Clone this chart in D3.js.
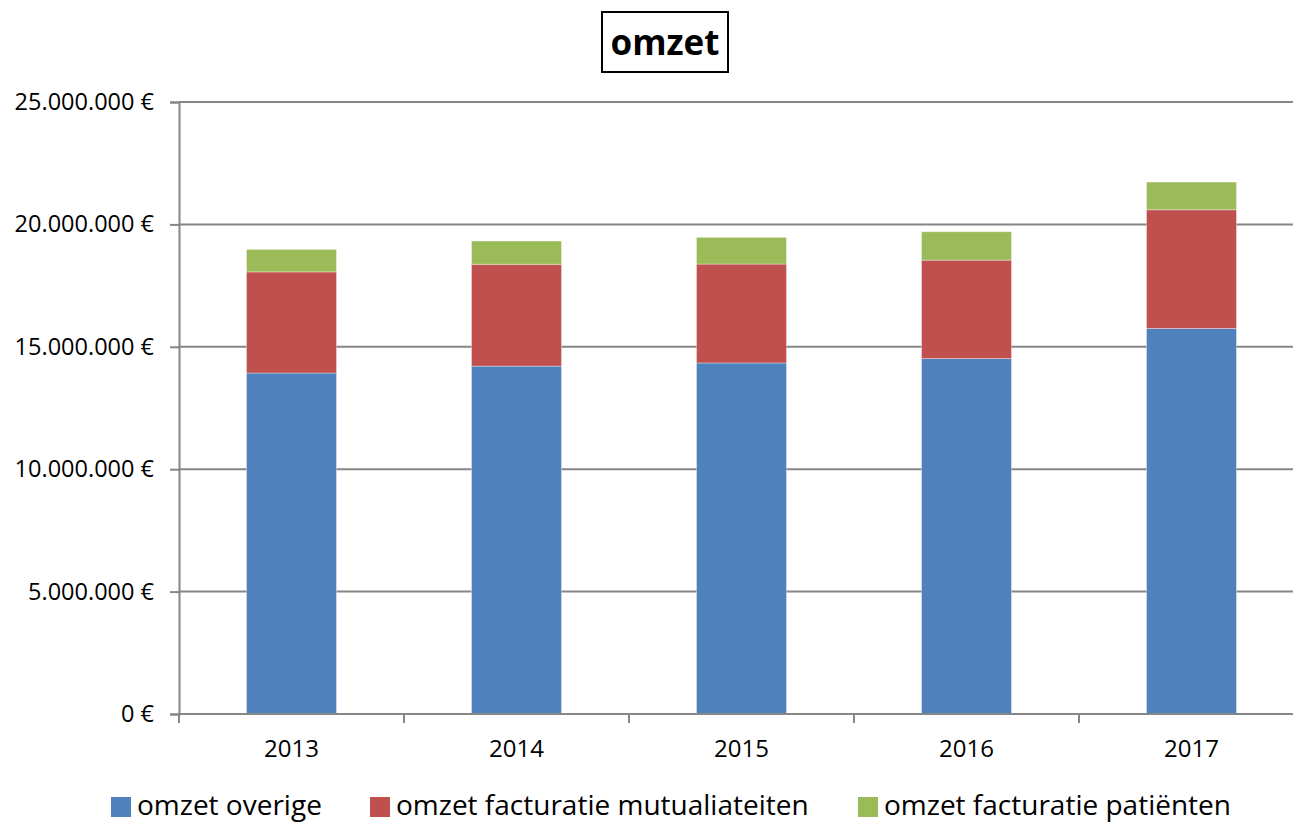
<!DOCTYPE html>
<html>
<head>
<meta charset="utf-8">
<script src="https://cdn.jsdelivr.net/npm/d3@7"></script>
<style>
  html, body { margin: 0; padding: 0; background: #fff; overflow: hidden; }
  text { font-family: "Open Sans", "Noto Sans", sans-serif; fill: #000; }
</style>
</head>
<body>
<div id="chart"></div>
<script>
const years = ["2013", "2014", "2015", "2016", "2017"];
const seriesNames = ["omzet overige", "omzet facturatie mutualiateiten", "omzet facturatie patiënten"];
const overige = [13930000, 14210000, 14340000, 14520000, 15750000];
const mutualiteiten = [4130000, 4160000, 4040000, 4020000, 4850000];
const patienten = [920000, 950000, 1090000, 1160000, 1130000];
const yTicks = [0, 5000000, 10000000, 15000000, 20000000, 25000000];
const colors = ["#4F81BD", "#C0504D", "#9BBB59"];

const width = 1293, height = 823;
const margin = { top: 102, left: 179, bottom: 109 };
const plotRight = 1304;

const svg = d3.select("#chart").append("svg")
  .attr("width", width).attr("height", height);

const rows = years.map((y, i) => ({
  year: y, a: overige[i], b: mutualiteiten[i], c: patienten[i]
}));
const stacked = d3.stack().keys(["a", "b", "c"])(rows);

const x = d3.scaleBand().domain(years)
  .range([margin.left, plotRight]).paddingInner(0.6).paddingOuter(0.3);
const y = d3.scaleLinear().domain([0, 25000000])
  .range([height - margin.bottom, margin.top]);

const fmt = v => d3.format(",")(v).replace(/,/g, ".") + " €";

// gridlines
svg.append("g").selectAll("line").data(yTicks.filter(t => t > 0)).join("line")
  .attr("x1", margin.left).attr("x2", plotRight)
  .attr("y1", d => y(d)).attr("y2", d => y(d))
  .attr("stroke", "#868686").attr("stroke-width", 2);

// bars
svg.append("g").selectAll("g").data(stacked).join("g")
  .attr("fill", (d, i) => colors[i])
  .selectAll("rect").data(d => d).join("rect")
  .attr("x", d => x(d.data.year))
  .attr("width", x.bandwidth())
  .attr("y", d => y(d[1]))
  .attr("height", d => y(d[0]) - y(d[1]))
  .attr("stroke", "rgba(255,255,255,0.35)").attr("stroke-width", 1);

// y axis
const yAxis = svg.append("g")
  .attr("transform", `translate(${margin.left},0)`)
  .call(d3.axisLeft(y).tickValues(yTicks).tickFormat(fmt).tickSize(9).tickPadding(16));
yAxis.select(".domain").attr("stroke", "#868686").attr("stroke-width", 2);
yAxis.selectAll(".tick line").attr("stroke", "#868686").attr("stroke-width", 2);
yAxis.selectAll(".tick text").attr("font-size", 23.5).attr("fill", "#000")
  .style("font-family", "'Open Sans', sans-serif");

// x axis
const xEdge = d3.scaleLinear().domain([0, years.length]).range([margin.left, plotRight]);
const xg = svg.append("g").attr("transform", `translate(0,${height - margin.bottom})`);
xg.append("line").attr("x1", margin.left).attr("x2", plotRight)
  .attr("stroke", "#868686").attr("stroke-width", 2);
xg.selectAll("line.tk").data(d3.range(years.length + 1)).join("line")
  .attr("class", "tk")
  .attr("x1", d => xEdge(d)).attr("x2", d => xEdge(d))
  .attr("y1", 0).attr("y2", 9)
  .attr("stroke", "#868686").attr("stroke-width", 2);
xg.selectAll("text").data(years).join("text")
  .attr("x", d => x(d) + x.bandwidth() / 2)
  .attr("y", 43)
  .attr("text-anchor", "middle")
  .attr("font-size", 24)
  .text(d => d);

// title
svg.append("rect")
  .attr("x", 602).attr("y", 12).attr("width", 126).attr("height", 60)
  .attr("fill", "#fff").attr("stroke", "#000").attr("stroke-width", 2);
svg.append("text")
  .attr("x", 665).attr("y", 55)
  .attr("text-anchor", "middle")
  .attr("font-size", 35).attr("font-weight", "bold")
  .text("omzet");

// legend
const legendX = [111, 370, 858];
const lg = svg.append("g");
seriesNames.forEach((name, i) => {
  lg.append("rect")
    .attr("x", legendX[i]).attr("y", 797).attr("width", 20).attr("height", 20)
    .attr("fill", colors[i]);
  lg.append("text")
    .attr("x", legendX[i] + 26).attr("y", 815)
    .attr("font-size", 28)
    .text(name);
});
</script>
</body>
</html>
